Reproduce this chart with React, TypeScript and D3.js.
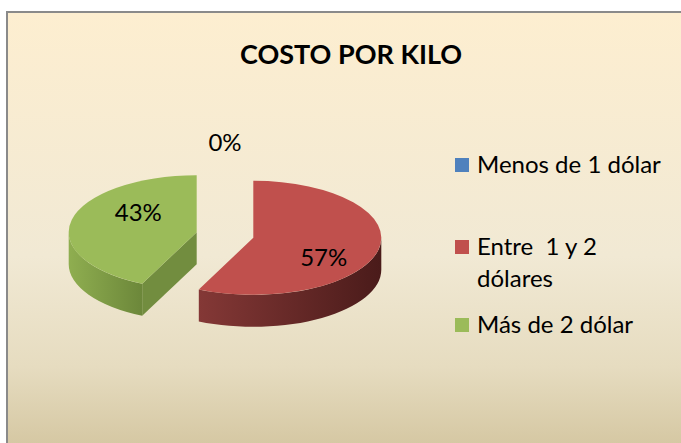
import { pie } from "d3";

const categories = ["Menos de 1 dólar", "Entre  1 y 2 dólares", "Más de 2 dólar"];
const legendLines = [["Menos de 1 dólar"], ["Entre  1 y 2", "dólares"], ["Más de 2 dólar"]];
const values = [0, 57, 43];
const pctLabels = ["0%", "57%", "43%"];
const topColors = ["#4f81bd", "#c0504d", "#9bbb59"];
const sideDark = ["#2c4d75", "#4a1b1a", "#6c873a"];
const sideLight = ["#3d6799", "#843836", "#8fae50"];
const radialColors = ["#3a5f8c", "#6e2b29", "#728d3f"];

const W = 681;
const H = 443;
const font = "Lato, 'Liberation Sans', sans-serif";

const cx = 225;
const cy = 235;
const rx = 128;
const ry = 57;
const depth = 32;
const explode = 29;
const labelRx = 66;
const labelRy = 92;
const labelDx = 6;

const pt = (ox: number, oy: number, a: number, dy = 0) =>
  [ox + rx * Math.sin(a), oy - ry * Math.cos(a) + dy] as const;

export default function App() {
  const arcs = pie<number>().sort(null).value((d) => d)(values);

  const slices = arcs.map((arc, i) => {
    const m = (arc.startAngle + arc.endAngle) / 2;
    const empty = arc.endAngle - arc.startAngle < 1e-6;
    const e = empty ? 0 : explode;
    const ox = cx + e * Math.sin(m);
    const oy = cy - e * Math.cos(m) * (ry / rx);
    return { i, a0: arc.startAngle, a1: arc.endAngle, m, ox, oy, empty };
  });

  const topPath = (s: (typeof slices)[number]) => {
    const [x0, y0] = pt(s.ox, s.oy, s.a0);
    const [x1, y1] = pt(s.ox, s.oy, s.a1);
    const large = s.a1 - s.a0 > Math.PI ? 1 : 0;
    return `M${s.ox},${s.oy}L${x0},${y0}A${rx},${ry} 0 ${large} 1 ${x1},${y1}Z`;
  };

  const outerWall = (s: (typeof slices)[number]) => {
    const b0 = Math.max(s.a0, Math.PI / 2);
    const b1 = Math.min(s.a1, (3 * Math.PI) / 2);
    if (b1 <= b0) return null;
    const [x0, y0] = pt(s.ox, s.oy, b0);
    const [x1, y1] = pt(s.ox, s.oy, b1);
    return `M${x0},${y0}A${rx},${ry} 0 0 1 ${x1},${y1}L${x1},${y1 + depth}A${rx},${ry} 0 0 0 ${x0},${y0 + depth}Z`;
  };

  // cut faces of exploded slices, only the ones turned toward the viewer
  const radialWalls = (s: (typeof slices)[number]) => {
    const out: string[] = [];
    const edges: [number, boolean][] = [
      [s.a0, Math.sin(s.a0) < -1e-6],
      [s.a1, Math.sin(s.a1) > 1e-6],
    ];
    edges.forEach(([a, vis]) => {
      if (!vis) return;
      const [x, y] = pt(s.ox, s.oy, a);
      out.push(`M${s.ox},${s.oy}L${x},${y}L${x},${y + depth}L${s.ox},${s.oy + depth}Z`);
    });
    return out;
  };

  return (
    <svg width={W} height={H} style={{ position: "absolute", left: 0, top: 0, display: "block" }}>
      <defs>
        <linearGradient id="bg" x1="0" y1="0" x2="0" y2="1">
          <stop offset="0" stopColor="#fdeed0" />
          <stop offset="0.55" stopColor="#f1e9d4" />
          <stop offset="0.8" stopColor="#e6dcc0" />
          <stop offset="1" stopColor="#d3c59f" />
        </linearGradient>
        {slices.map((s) => (
          <linearGradient key={s.i} id={`side${s.i}`} x1="0" y1="0" x2="1" y2="0">
            <stop offset="0" stopColor={sideLight[s.i]} />
            <stop offset="1" stopColor={sideDark[s.i]} />
          </linearGradient>
        ))}
      </defs>

      <rect x={7} y={12} width={W} height={H} fill="url(#bg)" stroke="#8a8a8a" strokeWidth={2} />

      <text x={351} y={64} textAnchor="middle" fontFamily={font} fontWeight="bold" fontSize={27} fill="#000">
        COSTO POR KILO
      </text>

      {slices.filter((s) => !s.empty).map((s) => (
        <g key={`w${s.i}`}>
          {radialWalls(s).map((d, k) => (
            <path key={k} d={d} fill={radialColors[s.i]} />
          ))}
          {outerWall(s) && <path d={outerWall(s)!} fill={`url(#side${s.i})`} />}
        </g>
      ))}

      {slices.filter((s) => !s.empty).map((s) => (
        <path key={`t${s.i}`} d={topPath(s)} fill={topColors[s.i]} />
      ))}

      {slices.map((s) => (
        <text
          key={`l${s.i}`}
          x={s.ox + labelRx * Math.sin(s.m) + (s.empty ? 0 : labelDx)}
          y={s.oy - labelRy * Math.cos(s.m)}
          dy="0.35em"
          textAnchor="middle"
          fontFamily={font}
          fontSize={24}
          fill="#000"
        >
          {pctLabels[s.i]}
        </text>
      ))}

      {categories.map((c, i) => {
        const base = [173, 255, 333][i];
        return (
          <g key={c}>
            <rect x={455} y={base - 15} width={14} height={14} fill={topColors[i]} />
            {legendLines[i].map((ln, k) => (
              <text
                key={k}
                x={477}
                y={base + k * 32}
                fontFamily={font}
                fontSize={24}
                fill="#000"
                style={{ whiteSpace: "pre" }}
              >
                {ln}
              </text>
            ))}
          </g>
        );
      })}
    </svg>
  );
}
